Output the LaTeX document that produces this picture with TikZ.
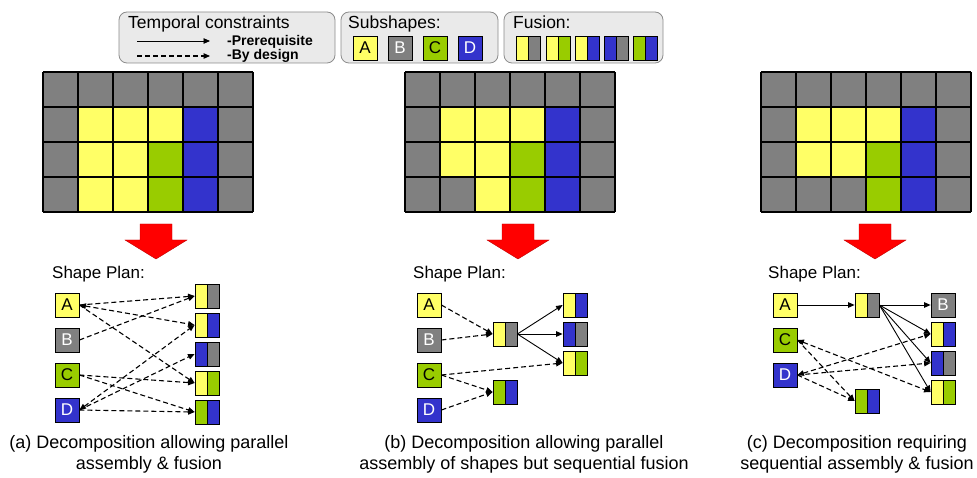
\documentclass[tikz,border=0pt]{standalone}
\usepackage{fontspec}
\setmainfont{Liberation Sans}
\usetikzlibrary{arrows.meta}

\definecolor{cgray}{HTML}{808080}
\definecolor{cyellow}{HTML}{FFFF66}
\definecolor{cgreen}{HTML}{99CC00}
\definecolor{cblue}{HTML}{3333CC}
\definecolor{cred}{HTML}{FF0000}
\definecolor{boxfill}{HTML}{EAEAEA}
\definecolor{boxline}{HTML}{8C8C8C}

\tikzset{
  txt/.style={inner sep=0pt, font=\fontsize{17}{20}\selectfont},
  headtxt/.style={inner sep=0pt, font=\fontsize{17.5}{20}\selectfont},
  captxt/.style={inner sep=0pt, align=center, font=\fontsize{18}{21.5}\selectfont},
  keytxt/.style={inner sep=0pt, font=\fontsize{14}{16}\selectfont\bfseries},
  legendbox/.style={draw=boxline, fill=boxfill, line width=0.8pt, rounded corners=8pt, inner sep=0pt},
  sub/.style={draw=black, line width=0.8pt, minimum size=24pt, inner sep=0pt,
              font=\fontsize{17}{17}\selectfont},
  subA/.style={sub, fill=cyellow, text=black},
  subB/.style={sub, fill=cgray, text=white},
  subC/.style={sub, fill=cgreen, text=black},
  subD/.style={sub, fill=cblue, text=white},
  pair/.style 2 args={draw=black, line width=0.8pt, minimum width=24pt, minimum height=24pt,
    inner sep=0pt,
    path picture={
      \fill[#1] (path picture bounding box.south west) rectangle (path picture bounding box.north);
      \fill[#2] (path picture bounding box.south) rectangle (path picture bounding box.north east);
      \draw[line width=0.8pt] (path picture bounding box.south) -- (path picture bounding box.north);
    }},
  tip/.tip={Triangle[length=6.5pt,width=5.5pt]},
  prereq/.style={-tip, line width=0.9pt},
  bydesign/.style={-tip, line width=1.1pt, dash pattern=on 5pt off 3pt},
  bothways/.style={tip-tip, line width=1.1pt, dash pattern=on 5pt off 3pt},
  gridline/.style={line width=1.3pt, black},
  bigarrow/.style={fill=cred, draw=red!75!black, line width=0.4pt}
}

% a 6x4 grid of 35pt cells; #2 = yellow cells, #3 = green cells, #4 = blue cells
\newcommand\shapegrid[4]{%
  \begin{scope}[shift={#1}]
    \fill[cgray] (0,0) rectangle (210,140);
    \foreach \c/\r in {#2} \fill[cyellow] (\c*35,\r*35) rectangle ++(35,35);
    \foreach \c/\r in {#3} \fill[cgreen] (\c*35,\r*35) rectangle ++(35,35);
    \foreach \c/\r in {#4} \fill[cblue] (\c*35,\r*35) rectangle ++(35,35);
    \foreach \i in {0,...,6} \draw[gridline] (\i*35,0) -- (\i*35,140);
    \foreach \j in {0,...,4} \draw[gridline] (0,\j*35) -- (210,\j*35);
  \end{scope}}

% downward block arrow centred at x = #1
\newcommand\blockarrow[1]{%
  \path[bigarrow] (#1-16,224) -- (#1+16,224) -- (#1+16,240) -- (#1+31,240)
    -- (#1,259) -- (#1-31,240) -- (#1-16,240) -- cycle;}

\begin{document}
\begin{tikzpicture}[x=1pt, y=-1pt]
  \useasboundingbox[fill=white] (0,0) rectangle (977,478);

  % ---------- legend ----------
  \node[legendbox, minimum width=216pt, minimum height=51pt] (tbox) at (227,37.5) {};
  \node[legendbox, minimum width=157pt, minimum height=51pt] (sbox) at (419.5,37.5) {};
  \node[legendbox, minimum width=159pt, minimum height=51pt] (fbox) at (583.5,37.5) {};

  \node[headtxt, anchor=base west] (tlabel) at (128,29) {Temporal constraints};
  \coordinate (ps) at (137,41);
  \coordinate (pe) at (210,41);
  \coordinate (ds) at (137,56);
  \coordinate (de) at (210,56);
  \draw[prereq] (ps) -- (pe);
  \draw[bydesign] (ds) -- (de);
  \node[keytxt, anchor=base west] (kpre) at (227,46) {-Prerequisite};
  \node[keytxt, anchor=base west] (kdes) at (227,60) {-By design};

  \node[headtxt, anchor=base west] (slabel) at (348,29) {Subshapes:};
  \node[subA] (lA) at (365,48) {A};
  \node[subB] (lB) at (400,48) {B};
  \node[subC] (lC) at (435,48) {C};
  \node[subD] (lD) at (470,48) {D};

  \node[headtxt, anchor=base west] (flabel) at (513,29) {Fusion:};
  \node[pair={cyellow}{cgray}]  (lf1) at (528,48) {};
  \node[pair={cyellow}{cgreen}] (lf2) at (558,48) {};
  \node[pair={cyellow}{cblue}]  (lf3) at (587,48) {};
  \node[pair={cblue}{cgray}]    (lf4) at (616,48) {};
  \node[pair={cgreen}{cblue}]   (lf5) at (645,48) {};

  % ---------- target shapes ----------
  \shapegrid{(43,72)}{1/1,2/1,3/1,1/2,2/2,1/3,2/3}{3/2,3/3}{4/1,4/2,4/3}
  \shapegrid{(405,72)}{1/1,2/1,3/1,1/2,2/2,2/3}{3/2,3/3}{4/1,4/2,4/3}
  \shapegrid{(761,72)}{1/1,2/1,3/1,1/2,2/2}{3/2,3/3}{4/1,4/2,4/3}

  \blockarrow{156}
  \blockarrow{518}
  \blockarrow{875}

  % ---------- plan (a) ----------
  \node[txt, anchor=base west] (pa) at (52,279) {Shape Plan:};
  \node[subA] (aA) at (67,305) {A};
  \node[subB] (aB) at (67,340) {B};
  \node[subC] (aC) at (67,375) {C};
  \node[subD] (aD) at (67,410) {D};
  \node[pair={cyellow}{cgray}]  (a1) at (207,296) {};
  \node[pair={cyellow}{cblue}]  (a2) at (207,325) {};
  \node[pair={cblue}{cgray}]    (a3) at (207,354) {};
  \node[pair={cyellow}{cgreen}] (a4) at (207,383) {};
  \node[pair={cgreen}{cblue}]   (a5) at (207,412) {};
  \draw[bydesign] (aA.east) -- (a1.west);
  \draw[bothways] (aA.east) -- (a2.west);
  \draw[bydesign] (aA.east) -- (a4.west);
  \draw[bydesign] (aB.east) -- (a1.west);
  \draw[bydesign] (aC.east) -- (a4.west);
  \draw[bydesign] (aC.east) -- (a5.west);
  \draw[bothways] (aD.east) -- (a2.west);
  \draw[bydesign] (aD.east) -- (a3.west);
  \draw[bydesign] (aD.east) -- (a5.west);

  % ---------- plan (b) ----------
  \node[txt, anchor=base west] (pb) at (413,279) {Shape Plan:};
  \node[subA] (bA) at (429,305) {A};
  \node[subB] (bB) at (429,340) {B};
  \node[subC] (bC) at (429,375) {C};
  \node[subD] (bD) at (429,410) {D};
  \node[pair={cyellow}{cgray}]  (bm) at (505,334) {};
  \node[pair={cgreen}{cblue}]   (bn) at (505,392) {};
  \node[pair={cyellow}{cblue}]  (b1) at (575,305) {};
  \node[pair={cblue}{cgray}]    (b2) at (575,334) {};
  \node[pair={cyellow}{cgreen}] (b3) at (575,363) {};
  \draw[bydesign] (bA.east) -- (bm.west);
  \draw[bydesign] (bB.east) -- (bm.west);
  \draw[bydesign] (bC.east) -- (b3.west);
  \draw[bydesign] (bC.east) -- (bn.west);
  \draw[bydesign] (bD.east) -- (bn.west);
  \draw[prereq] (bm.east) -- (b1.west);
  \draw[prereq] (bm.east) -- (b2.west);
  \draw[prereq] (bm.east) -- (b3.west);

  % ---------- plan (c) ----------
  \node[txt, anchor=base west] (pc) at (768,279) {Shape Plan:};
  \node[subA] (cA) at (785,305) {A};
  \node[subC] (cC) at (785,340) {C};
  \node[subD] (cD) at (785,375) {D};
  \node[pair={cyellow}{cgray}]  (cm) at (867,305) {};
  \node[pair={cgreen}{cblue}]   (cn) at (867,401) {};
  \node[subB] (cB) at (943,305) {B};
  \node[pair={cyellow}{cblue}]  (c1) at (943,334) {};
  \node[pair={cblue}{cgray}]    (c2) at (943,363) {};
  \node[pair={cyellow}{cgreen}] (c3) at (943,392) {};
  \draw[prereq] (cA.east) -- (cm.west);
  \draw[prereq] (cm.east) -- (cB.west);
  \draw[prereq] (cm.east) -- (c1.west);
  \draw[prereq] (cm.east) -- (c2.west);
  \draw[prereq] (cm.east) -- (c3.west);
  \draw[bydesign] (cC.east) -- (cn.west);
  \draw[bothways] (cC.east) -- (c3.west);
  \draw[bothways] (cD.east) -- (c1.west);
  \draw[bydesign] (cD.east) -- (c2.west);
  \draw[bydesign] (cD.east) -- (cn.west);

  % ---------- captions (base = baseline of the last line) ----------
  \node[captxt, anchor=base] (capa) at (149,469.5)
    {(a) Decomposition allowing parallel\\assembly \& fusion};
  \node[captxt, anchor=base] (capb) at (524,469.5)
    {(b) Decomposition allowing parallel\\assembly of shapes but sequential fusion};
  \node[captxt, anchor=base] (capc) at (857,469.5)
    {(c) Decomposition requiring\\sequential assembly \& fusion};
\end{tikzpicture}
\end{document}
